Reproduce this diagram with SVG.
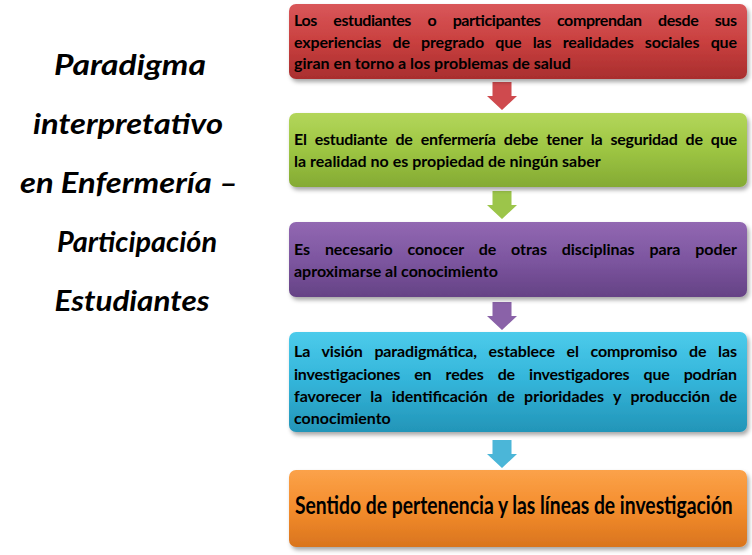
<svg xmlns="http://www.w3.org/2000/svg" width="752" height="555" viewBox="0 0 752 555">
<defs>
<filter id="sh" x="-5%" y="-20%" width="112%" height="150%">
<feDropShadow dx="2" dy="3" stdDeviation="2" flood-color="#000" flood-opacity="0.35"/>
</filter>
<linearGradient id="gRed" x1="0" y1="0" x2="0" y2="1"><stop offset="0" stop-color="#d9575a"/><stop offset="0.5" stop-color="#c9403f"/><stop offset="1" stop-color="#a92e2e"/></linearGradient>
<linearGradient id="gGreen" x1="0" y1="0" x2="0" y2="1"><stop offset="0" stop-color="#b3d65a"/><stop offset="0.5" stop-color="#9dc543"/><stop offset="1" stop-color="#84aa33"/></linearGradient>
<linearGradient id="gPurple" x1="0" y1="0" x2="0" y2="1"><stop offset="0" stop-color="#9268b2"/><stop offset="0.5" stop-color="#7d56a0"/><stop offset="1" stop-color="#654285"/></linearGradient>
<linearGradient id="gCyan" x1="0" y1="0" x2="0" y2="1"><stop offset="0" stop-color="#4ccbeb"/><stop offset="0.5" stop-color="#33b4d9"/><stop offset="1" stop-color="#2395b8"/></linearGradient>
<linearGradient id="gOrange" x1="0" y1="0" x2="0" y2="1"><stop offset="0" stop-color="#fba24a"/><stop offset="0.5" stop-color="#f48d2d"/><stop offset="1" stop-color="#d9741d"/></linearGradient>
<path id="arr" d="M-9.5,0 H9.5 V14 H15 L0,28 L-15,14 H-9.5 Z"/>
</defs>
<style>
.box{stroke:none;filter:url(#sh)}
.t{font-family:Lato,"Liberation Sans",sans-serif;font-weight:bold;font-size:16px;fill:#000}
.big{font-family:Lato,"Liberation Sans",sans-serif;font-weight:bold;font-size:24px;fill:#000}
.title{font-family:Lato,"Liberation Sans",sans-serif;font-weight:bold;font-style:italic;font-size:29px;fill:#000;text-anchor:middle}
</style>

<g id="title">
<text class="title" x="130" y="75" textLength="152" lengthAdjust="spacingAndGlyphs">Paradigma</text>
<text class="title" x="128" y="134" textLength="190" lengthAdjust="spacingAndGlyphs">interpretativo</text>
<text class="title" x="129" y="193" textLength="218" lengthAdjust="spacingAndGlyphs">en Enfermería –</text>
<text class="title" x="137" y="252" textLength="160" lengthAdjust="spacingAndGlyphs">Participación</text>
<text class="title" x="132" y="311" textLength="155" lengthAdjust="spacingAndGlyphs">Estudiantes</text>
</g>

<g id="connectors">
<use href="#arr" x="502" y="82" fill="#cf4a4e"/>
<use href="#arr" x="502" y="191" fill="#9cc54a"/>
<use href="#arr" x="502" y="302" fill="#8a62a8"/>
<use href="#arr" x="502" y="440" fill="#4bb6d8"/>
</g>

<g id="n1">
<rect class="box" x="289" y="4" width="458" height="75" rx="7" fill="url(#gRed)"/>
<text class="t" x="294" y="26" word-spacing="13" textLength="443" lengthAdjust="spacing">Los estudiantes o participantes comprendan desde sus</text>
<text class="t" x="294" y="48" word-spacing="7.5" textLength="443" lengthAdjust="spacing">experiencias de pregrado que las realidades sociales que</text>
<text class="t" x="294" y="69">giran en torno a los problemas de salud</text>
</g>

<g id="n2">
<rect class="box" x="289" y="113" width="458" height="74" rx="7" fill="url(#gGreen)"/>
<text class="t" x="294" y="145" word-spacing="4.5" textLength="443" lengthAdjust="spacing">El estudiante de enfermería debe tener la seguridad de que</text>
<text class="t" x="294" y="167">la realidad no es propiedad de ningún saber</text>
</g>

<g id="n3">
<rect class="box" x="289" y="222" width="458" height="75" rx="7" fill="url(#gPurple)"/>
<text class="t" x="294" y="255" word-spacing="11" textLength="443" lengthAdjust="spacing">Es necesario conocer de otras disciplinas para poder</text>
<text class="t" x="294" y="277">aproximarse al conocimiento</text>
</g>

<g id="n4">
<rect class="box" x="289" y="332" width="458" height="100" rx="7" fill="url(#gCyan)"/>
<text class="t" x="294" y="357" word-spacing="8" textLength="443" lengthAdjust="spacing">La visión paradigmática, establece el compromiso de las</text>
<text class="t" x="294" y="380" word-spacing="10.5" textLength="443" lengthAdjust="spacing">investigaciones en redes de investigadores que podrían</text>
<text class="t" x="294" y="402" word-spacing="5.5" textLength="443" lengthAdjust="spacing">favorecer la identificación de prioridades y producción de</text>
<text class="t" x="294" y="424">conocimiento</text>
</g>

<g id="n5">
<rect class="box" x="289" y="470" width="458" height="77" rx="7" fill="url(#gOrange)"/>
<text class="big" transform="translate(295 514) scale(0.805 1)" x="0" y="0">Sentido de pertenencia y las líneas de investigación</text>
</g>
</svg>
